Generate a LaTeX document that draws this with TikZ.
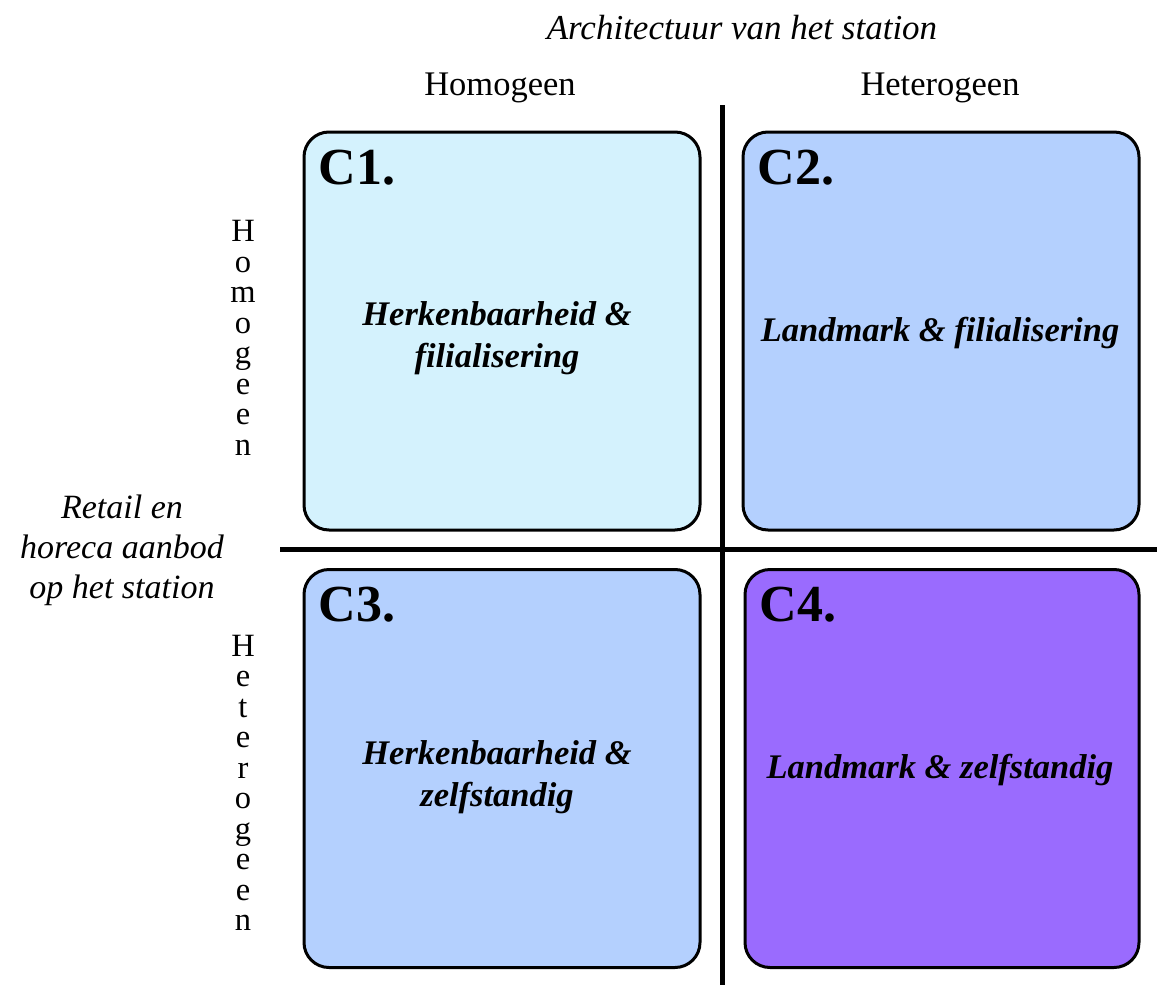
\documentclass[tikz,border=0pt]{standalone}
\usepackage{fontspec}
\setmainfont{Liberation Serif}
\usetikzlibrary{positioning}
\definecolor{cyanfill}{HTML}{D4F2FD}
\definecolor{bluefill}{HTML}{B4D0FE}
\definecolor{purplefill}{HTML}{9A6BFE}
\tikzset{
  quad/.style={draw, line width=3pt, rounded corners=25pt, minimum width=396pt, minimum height=398pt, inner sep=0pt},
  tag/.style={font=\fontsize{52}{52}\selectfont\bfseries, inner sep=0pt},
  body/.style={font=\fontsize{34.5}{42}\selectfont\bfseries\itshape, align=center},
  head/.style={font=\fontsize{34.5}{40}\selectfont},
  stack/.style={font=\fontsize{32.5}{30.5}\selectfont, align=center},
  axis/.style={line width=5pt}
}
\begin{document}
\begin{tikzpicture}[x=1pt,y=-1pt]
  \useasboundingbox (0,0) rectangle (1157,985);

  % quadrants
  \node[quad, fill=cyanfill] (c1) at (502,331) {};
  \node[quad, fill=bluefill] (c2) at (941,331) {};
  \node[quad, fill=bluefill] (c3) at (502,768.5) {};
  \node[quad, fill=purplefill, minimum width=394pt] (c4) at (942,768.5) {};

  \node[tag, below right=19pt and 16pt of c1.north west] (t1) {C1.};
  \node[tag, below right=19pt and 16pt of c2.north west] (t2) {C2.};
  \node[tag, below right=19pt and 16pt of c3.north west] (t3) {C3.};
  \node[tag, below right=19pt and 16pt of c4.north west] (t4) {C4.};

  \node[body] (b1) at (497,338) {Herkenbaarheid \&\\filialisering};
  \node[body] (b2) at (940,333) {Landmark \& filialisering};
  \node[body] (b3) at (497,777) {Herkenbaarheid \&\\zelfstandig};
  \node[body] (b4) at (940,770) {Landmark \& zelfstandig};

  % axes
  \coordinate (vtop) at (722,105);
  \coordinate (vbot) at (722,985);
  \coordinate (hleft) at (280,549);
  \coordinate (hright) at (1157,549);
  \draw[axis] (vtop) -- (vbot);
  \draw[axis] (hleft) -- (hright);

  % headings
  \node[head, font=\fontsize{35}{40}\selectfont\itshape] (arch) at (742,28) {Architectuur van het station};
  \node[head] (homx) at (500,88) {Homogeen};
  \node[head] (hetx) at (940,88) {Heterogeen};
  \node[stack] (homy) at (243,338) {H\\o\\m\\o\\g\\e\\e\\n};
  \node[stack] (hety) at (243,783) {H\\e\\t\\e\\r\\o\\g\\e\\e\\n};
  \node[font=\fontsize{34}{40}\selectfont\itshape, align=center] (retail) at (122,550) {Retail en\\horeca aanbod\\op het station};
\end{tikzpicture}
\end{document}
